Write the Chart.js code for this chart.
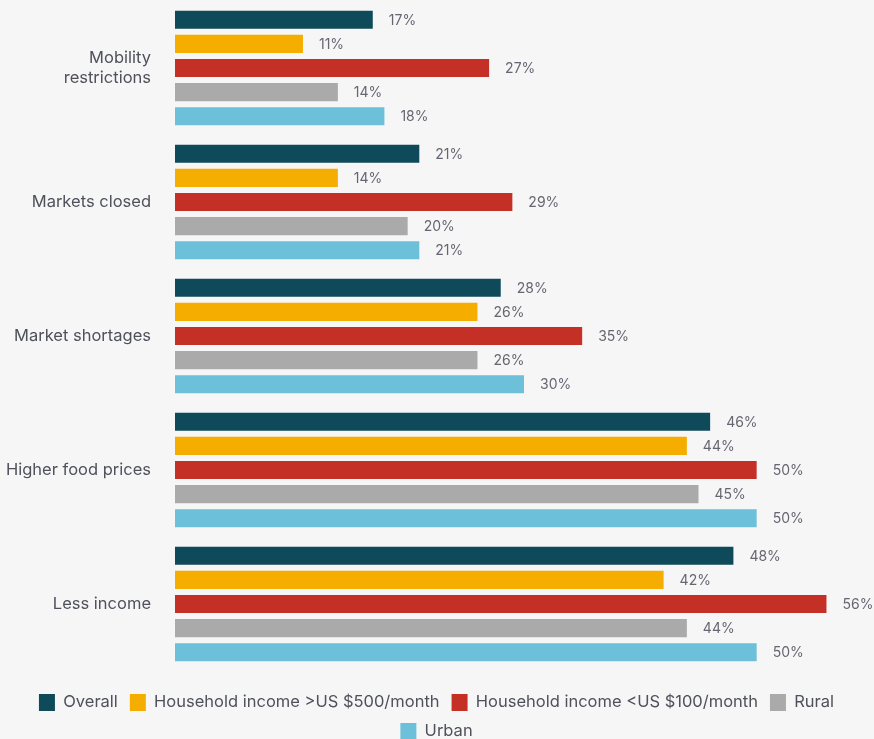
<!DOCTYPE html>
<html>
<head>
<meta charset="utf-8">
<script src="https://cdn.jsdelivr.net/npm/chart.js@4/dist/chart.umd.min.js"></script>
<style>
  html, body { margin: 0; padding: 0; background: #f6f6f6; }
  #wrap { width: 874px; height: 739px; position: relative; }
</style>
</head>
<body>
<div id="wrap"><canvas id="c"></canvas></div>
<script>
const categories = [["Mobility", "restrictions"], "Markets closed", "Market shortages", "Higher food prices", "Less income"];
const seriesNames = ["Overall", "Household income >US $500/month", "Household income <US $100/month", "Rural", "Urban"];
const overall = [17, 21, 28, 46, 48];
const incomeHigh = [11, 14, 26, 44, 42];
const incomeLow = [27, 29, 35, 50, 56];
const rural = [14, 20, 26, 45, 44];
const urban = [18, 21, 30, 50, 50];
const colors = ["#0e4a5a", "#f5ae00", "#c43026", "#aaaaaa", "#6cc0da"];

const seriesValues = [overall, incomeHigh, incomeLow, rural, urban];
const FONT = "Inter, 'Liberation Sans', sans-serif";

const labelPlugin = {
  id: 'barLabels',
  afterLayout(chart) {
    const lg = chart.legend;
    if (lg) { lg.top += 11; lg.bottom += 11; }
  },
  afterDatasetsDraw(chart) {
    const ctx = chart.ctx;
    ctx.save();
    ctx.font = "14px " + FONT;
    ctx.fillStyle = "#666672";
    ctx.textAlign = "left";
    ctx.textBaseline = "middle";
    chart.data.datasets.forEach((ds, i) => {
      const meta = chart.getDatasetMeta(i);
      meta.data.forEach((bar, j) => {
        ctx.fillText(ds.data[j] + "%", bar.x + 16, bar.y + 1);
      });
    });
    ctx.restore();
  }
};

new Chart(document.getElementById('c'), {
  type: 'bar',
  data: {
    labels: categories,
    datasets: seriesNames.map((n, i) => ({
      label: n,
      data: seriesValues[i],
      backgroundColor: colors[i],
      borderWidth: 0,
      categoryPercentage: 0.9,
      barPercentage: 0.75
    }))
  },
  options: {
    indexAxis: 'y',
    responsive: true,
    maintainAspectRatio: false,
    animation: false,
    layout: { padding: { top: 1, right: 1, left: 0, bottom: 0 } },
    scales: {
      x: {
        display: false,
        min: 0,
        max: 60
      },
      y: {
        grid: { display: false, drawTicks: false },
        border: { display: false },
        ticks: {
          color: "#4f515b",
          font: { family: FONT, size: 16.5 },
          padding: 24
        },
        afterFit(scale) {
          scale.width = 175;
          scale.paddingTop = 0;
          scale.paddingBottom = 0;
        }
      }
    },
    plugins: {
      legend: {
        position: 'bottom',
        labels: {
          color: "#4f515b",
          font: { family: FONT, size: 16.5 },
          boxWidth: 16,
          boxHeight: 17,
          padding: 12
        }
      },
      tooltip: { enabled: false }
    }
  },
  plugins: [labelPlugin]
});
</script>
</body>
</html>
